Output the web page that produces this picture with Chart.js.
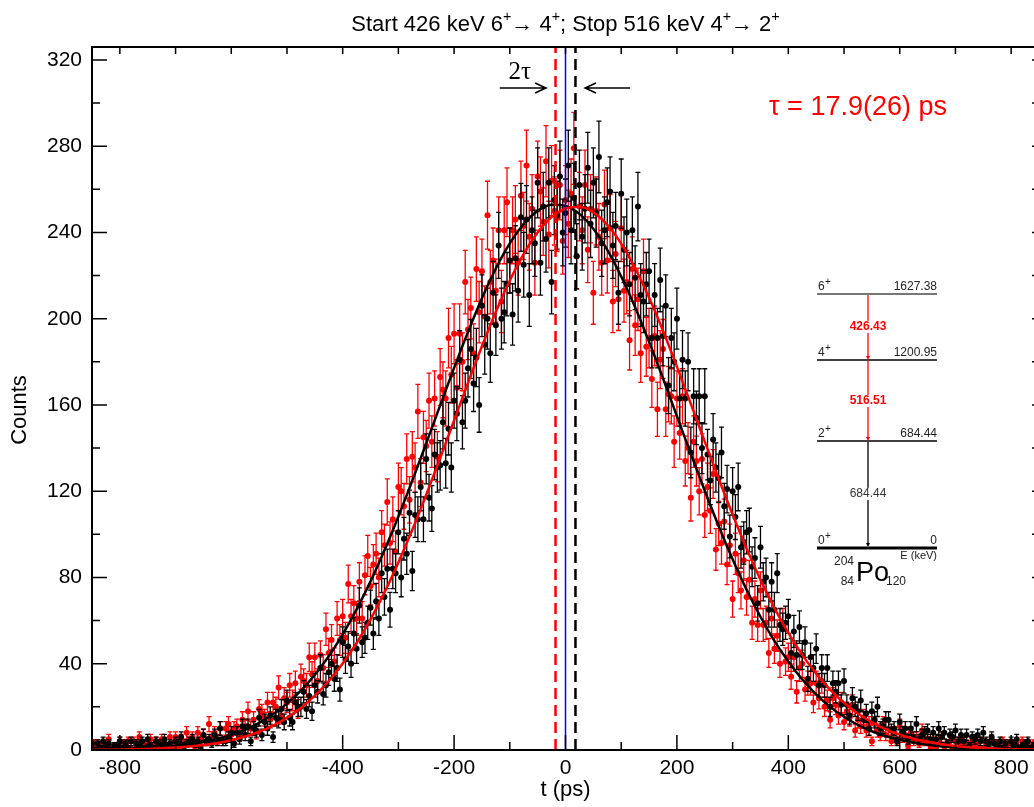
<!DOCTYPE html>
<html>
<head>
<meta charset="utf-8">
<script src="https://cdn.jsdelivr.net/npm/chart.js@4"></script>
<style>
  html, body { margin: 0; padding: 0; overflow: hidden; background: #fff; }
</style>
</head>
<body>
<canvas id="chart" width="1060" height="807"></canvas>
<script>
// time bins (ps) of the two spectra: first bin centre and bin width
const T0 = -850, DT = 5;
// fit curves are sampled every 25 ps
const FIT_T0 = -850, FIT_DT = 25;
const TAU = 17.9;
const X_MIN = -850, X_MAX = 850, Y_MAX = 326;

const xTickVals = [-800, -600, -400, -200, 0, 200, 400, 600, 800];
const yTickVals = [0, 40, 80, 120, 160, 200, 240, 280, 320];

// start 426 keV / stop 516 keV (red)
const redCounts = [
  1,3,3,1,3,2,5,1,2,0, 4,3,2,4,1,4,3,6,1,3, 2,5,2,4,0,5,3,2,6,3, 6,2,5,3,8,4,6,2,8,5, 7,4,12,6,8,5,10,4,10,12,
  7,10,11,7,14,11,18,10,14,8, 19,17,15,22,14,22,20,29,16,24, 22,30,23,31,19,34,32,30,43,35, 43,32,44,38,56,45,51,41,61,51, 62,52,77,62,68,61,78,61,81,90,
  76,86,91,80,101,95,115,96,107,92, 122,120,113,135,116,136,131,157,124,145, 141,162,143,163,136,173,167,163,191,174, 193,168,193,180,217,195,205,184,223,203, 222,201,248,217,227,213,241,208,241,254,
  227,241,246,226,257,243,271,238,251,226, 266,259,245,273,239,264,250,247,262,236, 255,244,258,279,229,252,241,262,232,251, 212,250,238,226,253,227,242,208,230,209, 242,213,217,190,223,197,209,184,222,187,
  191,172,192,158,181,186,158,165,164,143, 163,147,164,134,140,117,143,134,120,135, 109,122,111,128,93,105,96,106,86,95, 70,91,82,74,88,71,79,59,70,58, 74,58,59,45,61,47,53,40,58,41,
  43,34,43,27,38,40,28,31,31,22, 31,24,32,20,23,14,24,21,16,22, 13,18,15,21,9,14,11,15,9,12, 4,12,9,7,12,7,10,4,8,5, 11,6,7,2,8,4,6,3,9,4,
  5,2,5,1,5,6,2,3,4,1, 4,3,5,2,3,0,4,3,2,4, 1,3,2,5,0,3,2,4,1,3, 0,3,2,1,4,2,3,0,3,2,4
];

// reversed gate (black)
const blackCounts = [
  3,0,3,1,4,2,3,0,2,2, 4,1,3,1,4,0,3,2,4,1, 5,2,1,4,3,2,5,2,3,0, 4,3,6,2,3,4,5,3,4,1, 7,4,5,3,7,4,10,4,4,6,
  8,3,8,5,11,7,11,4,10,9, 15,7,13,10,16,6,15,14,19,13, 23,15,13,22,20,20,27,19,25,18, 30,27,38,26,30,36,40,33,38,28, 50,42,48,40,54,47,67,50,52,59,
  66,54,69,61,82,71,84,65,84,82, 101,80,98,91,110,83,109,107,122,107, 135,117,112,137,131,132,152,133,149,131, 162,156,181,152,162,177,186,170,182,160, 206,188,200,184,212,197,234,200,203,216,
  227,202,228,213,247,225,246,211,241,235, 263,226,252,237,263,217,255,248,266,240, 249,271,241,256,229,262,238,251,270,244, 263,249,275,235,241,254,259,234,243,212, 258,232,240,216,241,219,252,211,208,216,
  222,191,211,191,218,192,206,169,191,180, 200,163,181,163,180,138,164,154,164,140, 164,137,125,144,131,126,138,113,121,99, 120,108,122,94,96,101,102,85,89,68, 94,78,80,65,78,65,82,58,56,59,
  62,45,55,44,57,44,50,33,43,38, 47,30,38,30,38,20,31,27,31,21, 32,21,16,24,20,18,23,14,17,10, 18,14,20,10,11,14,14,9,10,4, 13,8,10,5,10,6,12,5,7,8,
  9,5,8,5,10,6,8,3,7,6, 9,4,7,4,7,2,6,5,7,4, 8,4,3,6,3,2,4,1,3,0, 4,2,5,1,2,3,4,1,2,3,2
];

// fitted curves, every 25 ps
const blackFit = [
  0.17,0.26,0.39,0.59,0.87,1.28,1.85,2.62,3.68,5.11,7.0,9.4,12.6,16.6,21.5,27.5,34.9,43.5,53.6,65.2,78.2,92.6,108.3,124.9,142.2,
  159.8,177.2,193.9,209.5,223.3,234.9,243.9,250,252.8,252.3,248.6,241.7,231.9,219.6,205.3,189.3,172.4,154.8,137.3,120.2,103.8,88.5,
  74.4,61.8,50.6,41.0,32.7,25.8,20.0,15.4,11.6,8.7,6.4,4.7,3.35,2.38,1.66,1.15,0.78,0.53,0.35,0.23,0.15,0.09
];
const redFit = [
  0.09,0.14,0.22,0.34,0.51,0.76,1.11,1.61,2.30,3.25,4.53,6.23,8.46,11.3,15.0,19.5,25.2,32.0,40.1,49.6,60.6,73.1,87.0,102.1,118.4,
  135.4,152.8,170.3,187.2,203.2,217.7,230.1,240.0,247.1,251.1,251.9,249.3,243.5,234.8,223.4,209.8,194.4,177.8,160.5,143.0,125.8,
  109.2,93.5,79.0,65.9,54.3,44.1,35.4,28.0,21.9,16.9,12.8,9.6,7.1,5.2,3.8,2.7,1.9,1.3,0.9,0.61,0.4,0.27,0.17
];

const FONT = "'Liberation Sans', Arial, sans-serif";

function toPoints(counts) {
  return counts.map((c, i) => ({ x: T0 + i * DT, y: c }));
}
function toFit(vals) {
  return vals.map((v, i) => ({ x: FIT_T0 + i * FIT_DT, y: v }));
}
function vline(t) {
  return [{ x: t, y: 0 }, { x: t, y: Y_MAX }];
}

// poisson error bars drawn under each data set
const errorBars = {
  id: 'errorBars',
  beforeDatasetDraw(chart, args) {
    const ds = chart.data.datasets[args.index];
    if (!ds.withErrors) return;
    const { ctx, chartArea: a, scales: { x, y } } = chart;
    ctx.save();
    ctx.beginPath();
    ctx.rect(a.left, a.top, a.right - a.left, a.bottom - a.top);
    ctx.clip();
    ctx.strokeStyle = ds.pointBackgroundColor;
    ctx.lineWidth = 1.3;
    ctx.beginPath();
    ds.data.forEach(p => {
      const e = Math.sqrt(p.y);
      if (!e) return;
      const px = x.getPixelForValue(p.x);
      const y1 = y.getPixelForValue(p.y - e), y2 = y.getPixelForValue(p.y + e);
      ctx.moveTo(px, y1); ctx.lineTo(px, y2);
      ctx.moveTo(px - 2.5, y1); ctx.lineTo(px + 2.5, y1);
      ctx.moveTo(px - 2.5, y2); ctx.lineTo(px + 2.5, y2);
    });
    ctx.stroke();
    ctx.restore();
  }
};

function richText(ctx, parts, cx, base, size, color) {
  let w = 0;
  parts.forEach(p => {
    ctx.font = (p[1] ? size * 0.65 : size) + 'px ' + FONT;
    w += ctx.measureText(p[0]).width;
  });
  let px = cx - w / 2;
  ctx.fillStyle = color;
  ctx.textAlign = 'left';
  ctx.textBaseline = 'alphabetic';
  parts.forEach(p => {
    ctx.font = (p[1] ? size * 0.65 : size) + 'px ' + FONT;
    ctx.fillText(p[0], px, p[1] ? base - size * 0.45 : base);
    px += ctx.measureText(p[0]).width;
  });
}

function hArrow(ctx, x1, x2, y) {
  const d = x2 > x1 ? 1 : -1;
  ctx.beginPath();
  ctx.moveTo(x1, y); ctx.lineTo(x2, y);
  ctx.moveTo(x2 - d * 11, y - 5); ctx.lineTo(x2, y); ctx.lineTo(x2 - d * 11, y + 5);
  ctx.stroke();
}

function vArrow(ctx, x, y1, y2, color) {
  ctx.strokeStyle = color; ctx.fillStyle = color; ctx.lineWidth = 1.3;
  ctx.beginPath(); ctx.moveTo(x, y1); ctx.lineTo(x, y2 - 3); ctx.stroke();
  ctx.beginPath(); ctx.moveTo(x - 2, y2 - 4); ctx.lineTo(x + 2, y2 - 4); ctx.lineTo(x, y2); ctx.closePath(); ctx.fill();
}

const decor = {
  id: 'decor',
  afterDraw(chart) {
    const { ctx, chartArea: a, scales: { x, y } } = chart;
    ctx.save();

    // frame and inward ticks
    ctx.strokeStyle = '#000';
    ctx.lineWidth = 2;
    ctx.strokeRect(a.left, a.top, a.right - a.left, a.bottom - a.top);
    ctx.lineWidth = 1.5;
    ctx.beginPath();
    for (let t = -800; t <= 800; t += 100) {
      const px = x.getPixelForValue(t);
      const major = t % 200 === 0;
      ctx.moveTo(px, a.bottom); ctx.lineTo(px, a.bottom - (major ? 15 : 8));
      ctx.moveTo(px, a.top); ctx.lineTo(px, a.top + 7);
    }
    for (let v = 0; v <= 320; v += 20) {
      const py = y.getPixelForValue(v);
      const major = v % 40 === 0;
      ctx.moveTo(a.left, py); ctx.lineTo(a.left + (major ? 15 : 8), py);
      ctx.moveTo(a.right, py); ctx.lineTo(a.right - 7, py);
    }
    ctx.stroke();

    // title and axis titles
    richText(ctx, [['Start 426 keV 6'], ['+', 1], ['\u2192 4'], ['+', 1], ['; Stop 516 keV 4'], ['+', 1], ['\u2192 2'], ['+', 1]],
      (a.left + a.right) / 2, 31, 22, '#000');
    ctx.fillStyle = '#000';
    ctx.font = '22px ' + FONT;
    ctx.textAlign = 'center';
    ctx.textBaseline = 'middle';
    ctx.fillText('t (ps)', x.getPixelForValue(0), 790);
    ctx.save();
    ctx.translate(20, 410);
    ctx.rotate(-Math.PI / 2);
    ctx.fillText('Counts', 0, 0);
    ctx.restore();

    // 2 tau arrows
    const ay = y.getPixelForValue(307);
    ctx.strokeStyle = '#000';
    ctx.lineWidth = 1.5;
    hArrow(ctx, x.getPixelForValue(-118), x.getPixelForValue(-35), ay);
    hArrow(ctx, x.getPixelForValue(116), x.getPixelForValue(35), ay);
    ctx.font = "25px 'Liberation Serif', 'Times New Roman', serif";
    ctx.fillStyle = '#000';
    ctx.fillText('2\u03c4', x.getPixelForValue(-82), y.getPixelForValue(314));

    ctx.font = '27px ' + FONT;
    ctx.fillStyle = '#ff0000';
    ctx.fillText('\u03c4 = 17.9(26) ps', x.getPixelForValue(525), y.getPixelForValue(298));

    // level scheme of 204Po
    const ox = x.getPixelForValue(451.5), oy = y.getPixelForValue(211.5);
    const levels = [[0, '6', '1627.38', '#777', 2], [66, '4', '1200.95', '#000', 1.5], [147, '2', '684.44', '#000', 1.5], [254, '0', '0', '#000', 3]];
    levels.forEach(l => {
      ctx.strokeStyle = l[3]; ctx.lineWidth = l[4];
      ctx.beginPath(); ctx.moveTo(ox, oy + l[0]); ctx.lineTo(ox + 120, oy + l[0]); ctx.stroke();
      ctx.fillStyle = '#222';
      ctx.textBaseline = 'alphabetic';
      ctx.textAlign = 'left';
      ctx.font = '12px ' + FONT;
      ctx.fillText(l[1], ox + 1, oy + l[0] - 4);
      ctx.font = '10px ' + FONT;
      ctx.fillText('+', ox + 8, oy + l[0] - 9);
      ctx.font = '12px ' + FONT;
      ctx.textAlign = 'right';
      ctx.fillText(l[2], ox + 120, oy + l[0] - 4);
    });
    const ax = ox + 51;
    vArrow(ctx, ax, oy + 1, oy + 66, '#ff0000');
    vArrow(ctx, ax, oy + 67, oy + 147, '#ff0000');
    vArrow(ctx, ax, oy + 148, oy + 253, '#000');
    ctx.textAlign = 'center';
    ctx.textBaseline = 'middle';
    [['426.43', 33, '#ff0000', 'bold '], ['516.51', 107, '#ff0000', 'bold '], ['684.44', 200, '#333', '']].forEach(g => {
      ctx.font = g[3] + '12px ' + FONT;
      const w = ctx.measureText(g[0]).width;
      ctx.fillStyle = '#fff';
      ctx.fillRect(ax - w / 2 - 1, oy + g[1] - 6, w + 2, 12);
      ctx.fillStyle = g[2];
      ctx.fillText(g[0], ax, oy + g[1]);
    });
    ctx.fillStyle = '#222';
    ctx.font = '11px ' + FONT;
    ctx.textAlign = 'right';
    ctx.fillText('E (keV)', ox + 120, oy + 262);
    ctx.font = '12px ' + FONT;
    ctx.fillText('204', ox + 37, oy + 268);
    ctx.fillText('84', ox + 37, oy + 288);
    ctx.textAlign = 'left';
    ctx.fillText('120', ox + 69, oy + 288);
    ctx.font = '27px ' + FONT;
    ctx.fillStyle = '#000';
    ctx.fillText('Po', ox + 39, oy + 280);

    ctx.restore();
  }
};

const ctx = document.getElementById('chart').getContext('2d');
new Chart(ctx, {
  type: 'scatter',
  data: {
    datasets: [
      { label: 'red', data: toPoints(redCounts), withErrors: true, pointRadius: 3, pointBorderWidth: 0,
        pointBackgroundColor: '#ff0000', order: 10 },
      { label: 'black', data: toPoints(blackCounts), withErrors: true, pointRadius: 3, pointBorderWidth: 0,
        pointBackgroundColor: '#000000', order: 9 },
      { type: 'line', label: 'black fit', data: toFit(blackFit), borderColor: '#000', borderWidth: 2.5,
        pointRadius: 0, cubicInterpolationMode: 'monotone', order: 8 },
      { type: 'line', label: 'red fit', data: toFit(redFit), borderColor: '#ff0000', borderWidth: 2.5,
        pointRadius: 0, cubicInterpolationMode: 'monotone', order: 7 },
      { type: 'line', data: vline(-TAU), borderColor: '#ff0000', borderWidth: 2.5, borderDash: [11, 6], pointRadius: 0, order: 6 },
      { type: 'line', data: vline(0), borderColor: '#0000ff', borderWidth: 1.5, pointRadius: 0, order: 5 },
      { type: 'line', data: vline(TAU), borderColor: '#000', borderWidth: 2.5, borderDash: [11, 6], pointRadius: 0, order: 4 }
    ]
  },
  options: {
    responsive: false,
    animation: false,
    devicePixelRatio: 1,
    layout: { padding: { top: 47, right: 21, left: 0, bottom: 0 } },
    plugins: { legend: { display: false }, tooltip: { enabled: false }, title: { display: false } },
    scales: {
      x: {
        type: 'linear', min: X_MIN, max: X_MAX,
        afterBuildTicks: s => { s.ticks = xTickVals.map(v => ({ value: v })); },
        afterFit: s => { s.height = 57; },
        grid: { display: false, drawTicks: false },
        border: { display: false },
        ticks: { padding: 6, color: '#000', maxRotation: 0, autoSkip: false, font: { family: FONT, size: 21 } }
      },
      y: {
        min: 0, max: Y_MAX,
        afterBuildTicks: s => { s.ticks = yTickVals.map(v => ({ value: v })); },
        afterFit: s => { s.width = 92; },
        grid: { display: false, drawTicks: false },
        border: { display: false },
        ticks: { padding: 10, color: '#000', font: { family: FONT, size: 21 } }
      }
    }
  },
  plugins: [errorBars, decor]
});
</script>
</body>
</html>
